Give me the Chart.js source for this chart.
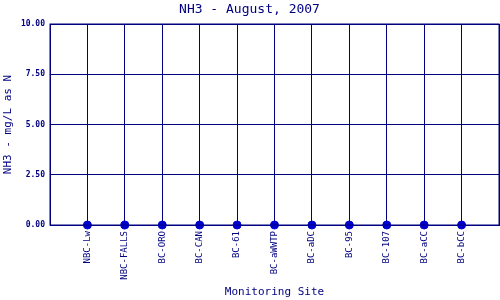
<!DOCTYPE html>
<html>
<head>
<meta charset="utf-8">
<script src="https://cdn.jsdelivr.net/npm/chart.js@4"></script>
<style>
  html, body { margin: 0; padding: 0; background: #fff; }
  #wrap { width: 500px; height: 300px; }
</style>
</head>
<body>
<div id="wrap"><canvas id="chart" width="500" height="300"></canvas></div>
<script>
const sites = ["NBC-Lw", "NBC-FALLS", "BC-ORO", "BC-CAN", "BC-61", "BC-aWWTP", "BC-aDC", "BC-95", "BC-107", "BC-aCC", "BC-bCC"];
const nh3Values = [0, 0, 0, 0, 0, 0, 0, 0, 0, 0, 0];
const yTicks = [0, 2.5, 5, 7.5, 10];

const navy = "#000080";
const mono = "'DejaVu Sans Mono', 'Liberation Mono', monospace";

const points = sites.map((s, i) => ({ x: i + 1, y: nh3Values[i] }));

new Chart(document.getElementById("chart"), {
  type: "scatter",
  data: {
    datasets: [{
      data: points,
      backgroundColor: "#0000cc",
      borderColor: "#0000cc",
      pointRadius: 4,
      pointStyle: "circle",
      showLine: false,
      clip: false,
    }],
  },
  options: {
    responsive: false,
    animation: false,
    layout: { autoPadding: false, padding: { left: 0, right: 1, top: 0, bottom: 0 } },
    plugins: {
      legend: { display: false },
      tooltip: { enabled: false },
      title: {
        display: true,
        text: "NH3 - August, 2007",
        color: navy,
        font: { family: mono, size: 13, weight: "normal" },
        padding: { top: 2, bottom: 6.4 },
      },
    },
    scales: {
      x: {
        type: "linear",
        min: 0,
        max: 12,
        afterBuildTicks: (scale) => {
          scale.ticks = [];
          for (let i = 0; i <= sites.length + 1; i++) scale.ticks.push({ value: i });
        },
        afterFit: (scale) => {
          scale.height = 75;
          scale.paddingLeft = 0;
          scale.paddingRight = 0;
        },
        grid: { color: navy, lineWidth: 1, drawTicks: false },
        border: { color: navy, width: 1 },
        ticks: {
          color: navy,
          autoSkip: false,
          maxRotation: 90,
          minRotation: 90,
          padding: 6,
          font: { family: mono, size: 9 },
          callback: (v) => sites[v - 1] || "",
        },
        title: {
          display: true,
          text: "Monitoring Site",
          color: navy,
          font: { family: mono, size: 11 },
          padding: { top: 0, bottom: 1 },
        },
      },
      y: {
        min: 0,
        max: 10,
        afterBuildTicks: (scale) => { scale.ticks = yTicks.map((v) => ({ value: v })); },
        afterFit: (scale) => {
          scale.width = 50;
          scale.paddingTop = 0;
          scale.paddingBottom = 0;
        },
        grid: { color: navy, lineWidth: 1, drawTicks: false },
        border: { color: navy, width: 1 },
        ticks: {
          color: navy,
          padding: 5,
          font: { family: mono, size: 8, weight: "bold" },
          callback: (v) => Number(v).toFixed(2),
        },
        title: {
          display: true,
          text: "NH3 - mg/L as N",
          color: navy,
          font: { family: mono, size: 11 },
          padding: { top: 2, bottom: 0 },
        },
      },
    },
  },
  plugins: [{
    id: "frame",
    afterDraw(chart) {
      const { ctx, chartArea: a } = chart;
      ctx.save();
      ctx.strokeStyle = navy;
      ctx.lineWidth = 1;
      ctx.strokeRect(a.left, a.top, a.right - a.left, a.bottom - a.top);
      ctx.restore();
    },
  }],
});
</script>
</body>
</html>
